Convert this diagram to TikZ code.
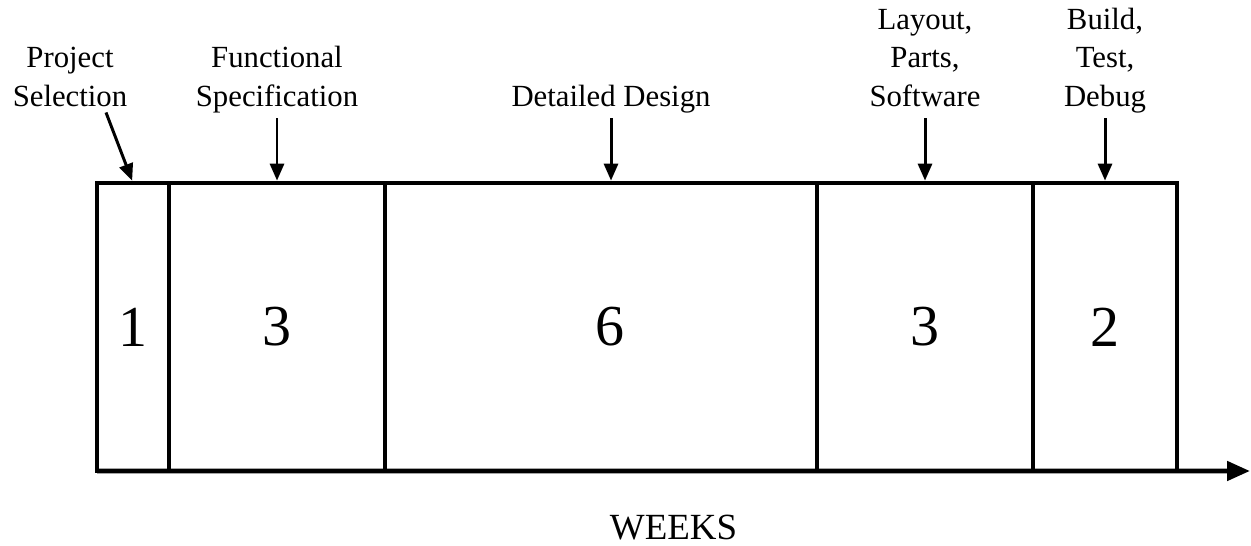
\documentclass[tikz,border=0pt]{standalone}
\usepackage{fontspec}
\setmainfont{Liberation Serif}
\usetikzlibrary{arrows.meta}
\usetikzlibrary{positioning}

\begin{document}
\begin{tikzpicture}[
  seg/.style={draw, line width=2.7pt, minimum height=5.76cm, outer sep=0pt, inner sep=0pt, font=\fontsize{33}{36}\selectfont},
  lbl/.style={align=center, inner sep=0.1cm, text depth=0.13cm, font=\fontsize{17.5}{22}\selectfont},
  pointer/.style={-{Triangle[length=0.34cm, width=0.28cm]}, line width=1.7pt, shorten >=1.35pt}
]
  \useasboundingbox (0,0) rectangle (25.02,10.92);

  \node[seg, minimum width=1.44cm] (s1) at (2.66,4.38) {1};
  \node[seg, minimum width=4.32cm, right=0cm of s1] (s2) {3};
  \node[seg, minimum width=8.64cm, right=0cm of s2] (s3) {\hspace*{0.36cm}6};
  \node[seg, minimum width=4.32cm, right=0cm of s3] (s4) {3};
  \node[seg, minimum width=2.88cm, right=0cm of s4] (s5) {2};

  \node[lbl, above=1.29cm of s1, xshift=-1.26cm] (ps)  {Project\\Selection};
  \node[lbl, above=1.29cm of s2]                 (fs)  {Functional\\Specification};
  \node[lbl, above=1.29cm of s3, xshift=0.2cm]   (dd)  {Detailed Design};
  \node[lbl, above=1.29cm of s4]                 (lps) {Layout,\\Parts,\\Software};
  \node[lbl, above=1.29cm of s5]                 (btd) {Build,\\Test,\\Debug};

  \draw[pointer] ([xshift=0.72cm, yshift=0.12cm]ps.south) -- (s1.north);
  \draw[pointer] (fs) -- (s2);
  \draw[pointer] (dd) -- (dd |- s3.north);
  \draw[pointer] (lps) -- (s4);
  \draw[pointer] (btd) -- (s5);

  % time axis
  \coordinate (tip) at (25.0,1.5);
  \draw[line width=2.7pt, -{Triangle[length=0.46cm, width=0.38cm]}] (s1.south west) -- (tip);
  \node[font=\fontsize{21}{24}\selectfont] (weeks) at (13.47,0.37) {WEEKS};
\end{tikzpicture}
\end{document}
